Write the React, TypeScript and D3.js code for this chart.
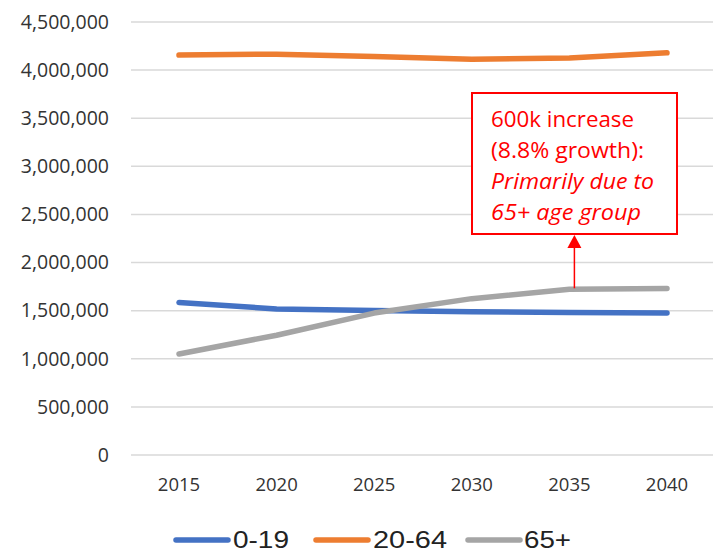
import React from "react";
import * as d3 from "d3";

const years = ["2015", "2020", "2025", "2030", "2035", "2040"];
const age0to19 = [1585000, 1518000, 1502000, 1490000, 1480000, 1477000];
const age20to64 = [4156000, 4166000, 4142000, 4114000, 4125000, 4180000];
const age65plus = [1050000, 1245000, 1475000, 1625000, 1722000, 1730000];
const yTicks = [0, 500000, 1000000, 1500000, 2000000, 2500000, 3000000, 3500000, 4000000, 4500000];
const seriesNames = ["0-19", "20-64", "65+"];
const seriesColors = ["#4472C4", "#ED7D31", "#A5A5A5"];
const annotationLines = ["600k increase", "(8.8% growth):", "Primarily due to", "65+ age group"];
const annotationItalic = [false, false, true, true];
const annotationWidths = [143, 153, 163, 150];

const W = 721;
const H = 554;
const FONT = "'Open Sans', 'Liberation Sans', sans-serif";

export default function App() {
  const x = d3.scalePoint<string>().domain(years).range([179, 667]);
  const y = d3.scaleLinear().domain([0, 4500000]).range([455, 22]);
  const fmt = d3.format(",");
  const allSeries = [age0to19, age20to64, age65plus];
  const line = d3
    .line<number>()
    .x((_, i) => x(years[i]) as number)
    .y((d) => y(d));

  const arrowX = (x("2035") as number) + 5;
  const arrowBottom = y(age65plus[4]) - 1;
  const boxTop = 93;
  const boxBottom = 234;
  const boxLeft = 472;
  const boxRight = 677;

  const legendItems = [
    { lx: 176, tx: 233, tw: 56 },
    { lx: 316, tx: 373, tw: 74 },
    { lx: 468, tx: 524, tw: 47 },
  ];

  return (
    <div style={{ position: "absolute", left: 0, top: 0 }}>
      <svg width={W} height={H} style={{ display: "block", background: "#fff" }}>
        {yTicks.map((t) => (
          <g key={t}>
            <line x1={131} x2={713} y1={y(t)} y2={y(t)} stroke="#D9D9D9" strokeWidth={1.5} />
            <text
              x={109}
              y={y(t)}
              dy="0.35em"
              textAnchor="end"
              fontFamily={FONT}
              fontSize={19.5}
              fill="#333"
            >
              {fmt(t)}
            </text>
          </g>
        ))}
        {years.map((yr) => (
          <text
            key={yr}
            x={x(yr)}
            y={491}
            textAnchor="middle"
            fontFamily={FONT}
            fontSize={18.5}
            fill="#333"
          >
            {yr}
          </text>
        ))}
        {allSeries.map((s, i) => (
          <path
            key={i}
            d={line(s) || ""}
            fill="none"
            stroke={seriesColors[i]}
            strokeWidth={5.5}
            strokeLinecap="round"
            strokeLinejoin="round"
          />
        ))}
        {/* annotation */}
        <rect
          x={boxLeft}
          y={boxTop}
          width={boxRight - boxLeft}
          height={boxBottom - boxTop}
          fill="#fff"
          stroke="#FF0000"
          strokeWidth={2}
        />
        {annotationLines.map((t, i) => (
          <text
            key={i}
            x={491}
            y={127 + i * 31}
            fontFamily={FONT}
            fontSize={21}
            fontStyle={annotationItalic[i] ? "italic" : "normal"}
            fill="#FF0000"
            textLength={annotationWidths[i]}
            lengthAdjust="spacingAndGlyphs"
          >
            {t}
          </text>
        ))}
        <line x1={arrowX} x2={arrowX} y1={arrowBottom} y2={246} stroke="#FF0000" strokeWidth={1.5} />
        <path
          d={`M${arrowX},${boxBottom + 1} L${arrowX - 7},${boxBottom + 14} L${arrowX + 7},${boxBottom + 14} Z`}
          fill="#FF0000"
        />
        {/* legend */}
        {seriesNames.map((n, i) => (
          <g key={n}>
            <line
              x1={legendItems[i].lx}
              x2={legendItems[i].lx + 52}
              y1={540}
              y2={540}
              stroke={seriesColors[i]}
              strokeWidth={5.5}
              strokeLinecap="round"
            />
            <text
              x={legendItems[i].tx}
              y={548}
              fontFamily="'Liberation Sans', Arial, sans-serif"
              fontSize={24}
              fill="#222"
              textLength={legendItems[i].tw}
              lengthAdjust="spacingAndGlyphs"
            >
              {n}
            </text>
          </g>
        ))}
      </svg>
    </div>
  );
}
